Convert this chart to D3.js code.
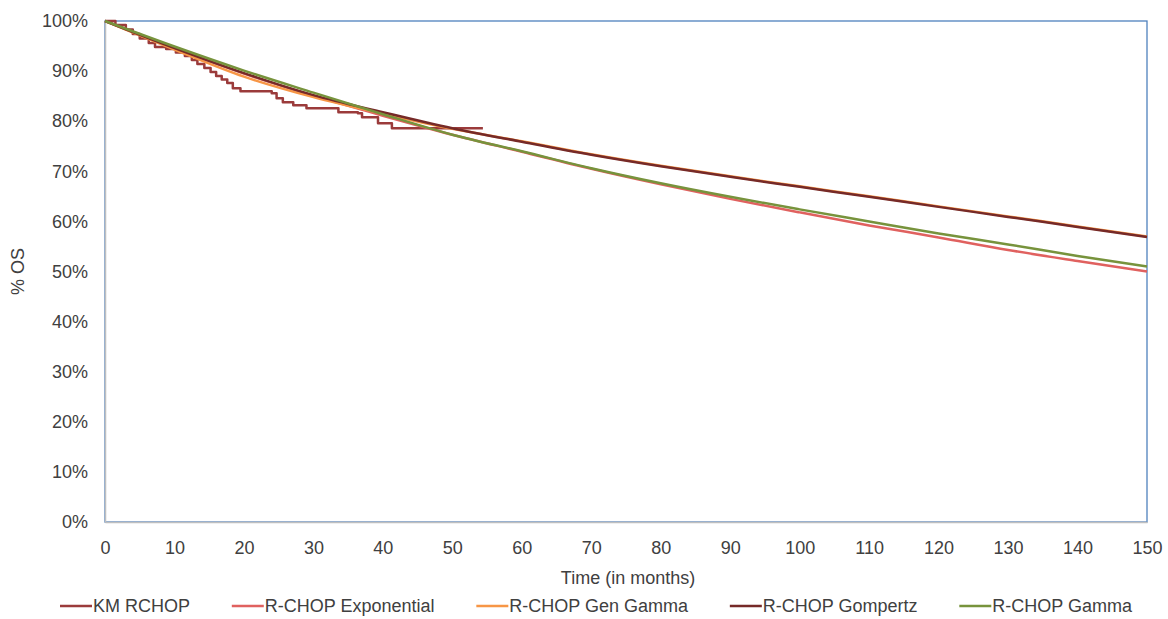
<!DOCTYPE html>
<html>
<head>
<meta charset="utf-8">
<script src="https://cdn.jsdelivr.net/npm/d3@7"></script>
<style>
  body { margin: 0; background: #fff; }
  text { font-family: "Liberation Sans", Arial, sans-serif; fill: #404040; }
</style>
</head>
<body>
<div id="chart"></div>
<script>
const months = [0, 10, 20, 30, 40, 50, 60, 70, 80, 90, 100, 110, 120, 130, 140, 150];

// % OS per model
const expValues = [100, 94.6, 89.5, 85.1, 81.1, 77.3, 73.9, 70.5, 67.4, 64.5, 61.8, 59.2, 56.8, 54.3, 52.1, 50.0];
const genGammaValues = [100, 94.3, 88.9, 84.8, 81.5, 78.5, 76.0, 73.4, 71.1, 69.0, 67.0, 65.0, 63.0, 61.0, 59.0, 57.0];
const gompertzValues = [100, 94.6, 89.6, 85.2, 81.8, 78.6, 75.9, 73.3, 71.0, 68.9, 66.9, 64.9, 62.9, 60.9, 58.9, 56.9];
const gammaValues = [100, 94.9, 90.1, 85.7, 81.4, 77.3, 74.0, 70.6, 67.6, 64.9, 62.4, 60.0, 57.6, 55.4, 53.1, 51.0];

// Kaplan-Meier steps (time, % OS)
const kmTimes = [0, 1.5, 3, 4, 5, 6.3, 7.2, 8.8, 10.2, 11.5, 12.5, 13.3, 14.3, 15.2, 16.0, 16.8, 17.6, 18.4, 19.5,
  24.0, 24.7, 25.6, 27.1, 29.0, 33.6, 36.4, 37.0, 39.3, 41.3, 54.4];
const kmValues = [100, 99.2, 98.3, 97.4, 96.5, 95.6, 94.8, 94.4, 93.7, 93.0, 92.2, 91.4, 90.6, 89.8, 89.0, 88.3, 87.6, 86.6, 86.0,
  85.6, 84.6, 83.8, 83.2, 82.6, 81.8, 81.6, 80.8, 79.6, 78.6, 78.6];

const seriesNames = ["KM RCHOP", "R-CHOP Exponential", "R-CHOP Gen Gamma", "R-CHOP Gompertz", "R-CHOP Gamma"];
const seriesColors = ["#9b3b3b", "#e0615f", "#f79646", "#762a28", "#77933c"];

const xTicks = d3.range(0, 151, 10);
const yTicks = d3.range(0, 101, 10);

const size = { width: 1168, height: 619 };
const plot = { left: 105, top: 21, right: 1147, bottom: 522 };
const fontSize = "18px";

const svg = d3.select("#chart").append("svg")
  .attr("width", size.width)
  .attr("height", size.height);

const x = d3.scaleLinear().domain([0, 150]).range([plot.left, plot.right]);
const y = d3.scaleLinear().domain([0, 100]).range([plot.bottom, plot.top]);

// plot area border (blue on top / right, axes overlay left / bottom)
svg.append("rect")
  .attr("x", plot.left).attr("y", plot.top)
  .attr("width", plot.right - plot.left)
  .attr("height", plot.bottom - plot.top)
  .attr("fill", "none")
  .attr("stroke", "#4f81bd")
  .attr("stroke-width", 1.3);

const yAxis = svg.append("g")
  .attr("transform", `translate(${plot.left},0)`)
  .call(d3.axisLeft(y).tickValues(yTicks).tickSize(0).tickPadding(17).tickFormat(d => d + "%"));
yAxis.select(".domain").attr("stroke", "#bfbfbf").attr("stroke-width", 1.5);
yAxis.selectAll(".tick text").style("font-size", fontSize).style("font-family", "Liberation Sans, Arial, sans-serif").attr("fill", "#404040");

const xAxis = svg.append("g")
  .attr("transform", `translate(0,${plot.bottom})`)
  .call(d3.axisBottom(x).tickValues(xTicks).tickSize(0).tickPadding(19));
xAxis.select(".domain").attr("stroke", "#bfbfbf").attr("stroke-width", 1.5);
xAxis.selectAll(".tick text").style("font-size", fontSize).style("font-family", "Liberation Sans, Arial, sans-serif").attr("fill", "#404040");

svg.append("text")
  .attr("transform", `translate(24,${(plot.top + plot.bottom) / 2}) rotate(-90)`)
  .attr("text-anchor", "middle")
  .style("font-size", fontSize)
  .text("% OS");

svg.append("text")
  .attr("x", 628).attr("y", 584)
  .attr("text-anchor", "middle")
  .style("font-size", fontSize)
  .text("Time (in months)");

// curves
const fitLine = d3.line()
  .x(d => x(d[0]))
  .y(d => y(d[1]))
  .curve(d3.curveMonotoneX);

const kmLine = d3.line()
  .x(d => x(d[0]))
  .y(d => y(d[1]))
  .curve(d3.curveStepAfter);

const series = [
  { path: kmLine(kmTimes.map((t, i) => [t, kmValues[i]])) },
  { path: fitLine(months.map((t, i) => [t, expValues[i]])) },
  { path: fitLine(months.map((t, i) => [t, genGammaValues[i]])) },
  { path: fitLine(months.map((t, i) => [t, gompertzValues[i]])) },
  { path: fitLine(months.map((t, i) => [t, gammaValues[i]])) }
];

svg.append("g").selectAll("path")
  .data(series)
  .join("path")
  .attr("d", d => d.path)
  .attr("fill", "none")
  .attr("stroke", (d, i) => seriesColors[i])
  .attr("stroke-width", 2.5)
  .attr("stroke-linejoin", "round");

// legend: first sample at x=60, last label ends near x=1132, even gaps
const legend = svg.append("g").attr("transform", "translate(0,606)");
const items = legend.selectAll("g")
  .data(seriesNames)
  .join("g");
items.append("line")
  .attr("x1", 0).attr("x2", 32)
  .attr("y1", 0).attr("y2", 0)
  .attr("stroke", (d, i) => seriesColors[i])
  .attr("stroke-width", 2.5);
items.append("text")
  .attr("x", 33).attr("dy", "0.35em")
  .style("font-size", fontSize)
  .text(d => d);

const widths = items.nodes().map(n => 33 + n.querySelector("text").getComputedTextLength());
const gap = (1132 - 60 - d3.sum(widths)) / (widths.length - 1);
let pos = 60;
items.attr("transform", (d, i) => {
  const t = `translate(${pos},0)`;
  pos += widths[i] + gap;
  return t;
});
</script>
</body>
</html>
